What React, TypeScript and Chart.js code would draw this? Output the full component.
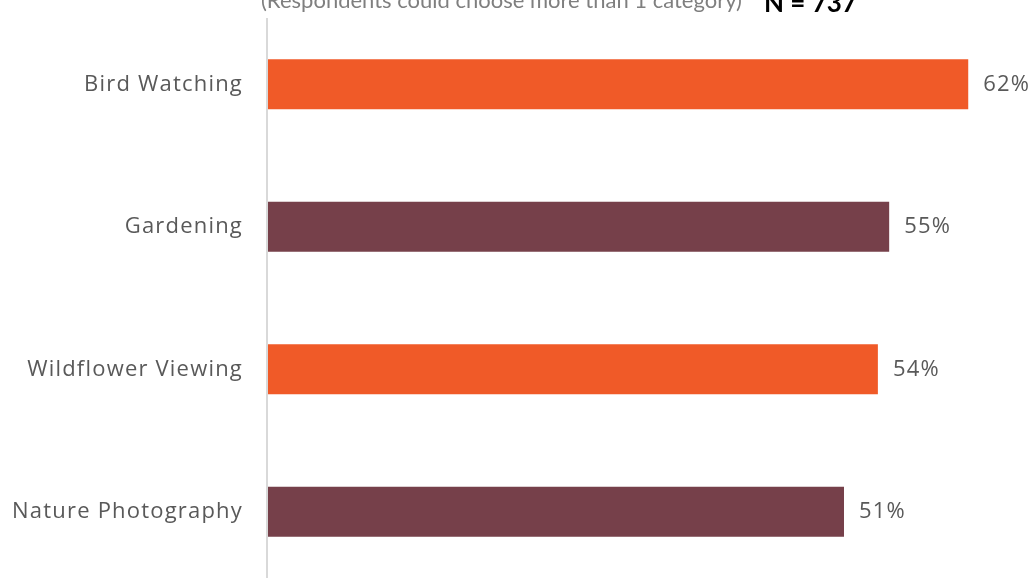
import React, { useEffect, useRef } from "react";
import { Chart, registerables } from "chart.js";

Chart.register(...registerables);

const categories = ["Bird Watching", "Gardening", "Wildflower Viewing", "Nature Photography"];
const values = [62, 55, 54, 51];
const barColors = ["#F05A28", "#76404A", "#F05A28", "#76404A"];
const noteText = "(Respondents could choose more than 1 category)";
const sampleText = "N = 737";
const axisMax = 68;

const spacing = {
  id: "spacing",
  beforeDraw(chart: any) {
    chart.ctx.letterSpacing = "1.2px";
  },
};

const annotations = {
  id: "annotations",
  afterDatasetsDraw(chart: any) {
    const { ctx, chartArea } = chart;
    const meta = chart.getDatasetMeta(0);
    ctx.save();
    // value labels
    ctx.letterSpacing = "1.2px";
    ctx.font = "22px 'Open Sans'";
    ctx.fillStyle = "#595959";
    ctx.textAlign = "left";
    ctx.textBaseline = "middle";
    meta.data.forEach((bar: any, i: number) => {
      ctx.fillText(values[i] + "%", bar.x + 15, bar.y);
    });
    ctx.letterSpacing = "0px";
    // axis line
    ctx.strokeStyle = "#d9d9d9";
    ctx.lineWidth = 2;
    ctx.beginPath();
    ctx.moveTo(chartArea.left - 1, 18);
    ctx.lineTo(chartArea.left - 1, chart.height);
    ctx.stroke();
    // header
    ctx.textBaseline = "alphabetic";
    ctx.font = "22px Lato";
    ctx.fillStyle = "#7f7f7f";
    const x0 = chartArea.left - 7;
    ctx.fillText(noteText, x0, 8);
    const w = ctx.measureText(noteText).width;
    ctx.font = "bold 26px Lato";
    ctx.fillStyle = "#000000";
    ctx.fillText(sampleText, x0 + w + 22, 12);
    ctx.restore();
  },
};

export default function App() {
  const ref = useRef<HTMLCanvasElement>(null);
  useEffect(() => {
    if (!ref.current) return;
    const chart = new Chart(ref.current, {
      type: "bar",
      data: {
        labels: categories,
        datasets: [
          {
            data: values,
            backgroundColor: barColors,
            borderWidth: 0,
            barPercentage: 0.35,
            categoryPercentage: 1,
          },
        ],
      },
      options: {
        indexAxis: "y",
        responsive: false,
        animation: false,
        layout: { padding: { top: 13, bottom: 7, left: 0, right: 0 } },
        plugins: { legend: { display: false }, tooltip: { enabled: false }, title: { display: false } },
        scales: {
          x: { type: "linear", min: 0, max: axisMax, display: false },
          y: {
            grid: { display: false, drawTicks: false },
            border: { display: false },
            ticks: { color: "#595959", font: { family: "'Open Sans'", size: 22 }, padding: 25 },
            afterFit: (s: any) => {
              s.width = 268;
              s.paddingTop = 0;
              s.paddingBottom = 0;
            },
          },
        },
      },
      plugins: [spacing, annotations],
    } as any);
    return () => chart.destroy();
  }, []);
  return (
    <div style={{ position: "fixed", left: 0, top: 0, width: 1036, height: 578, overflow: "hidden", background: "#fff" }}>
      <canvas ref={ref} width={1036} height={590} style={{ display: "block" }} />
    </div>
  );
}
